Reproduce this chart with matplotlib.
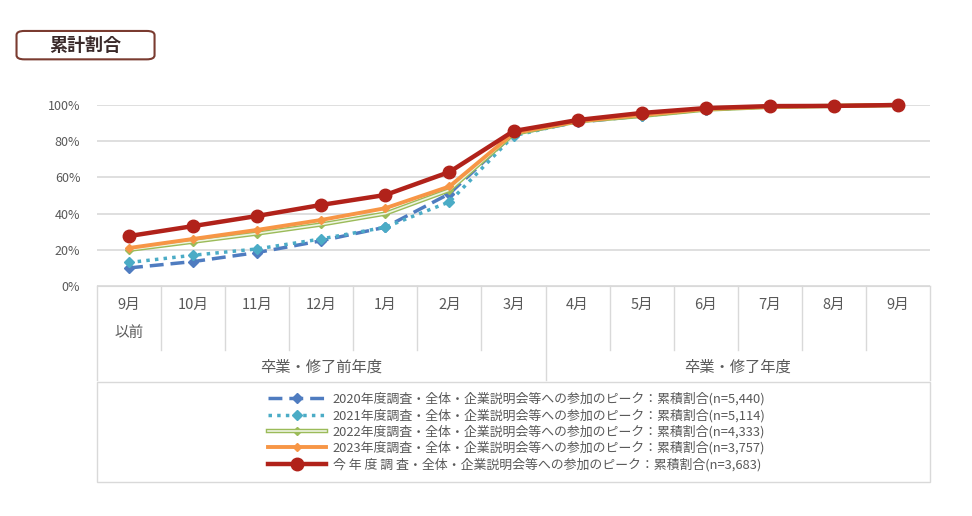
import matplotlib.pyplot as plt
from matplotlib.patches import FancyBboxPatch, Rectangle
from matplotlib.legend_handler import HandlerTuple

plt.rcParams["font.family"] = "Noto Sans CJK JP"

months = ["9月", "10月", "11月", "12月", "1月", "2月", "3月",
          "4月", "5月", "6月", "7月", "8月", "9月"]
groups = ["卒業・修了前年度", "卒業・修了年度"]

y2020 = [10, 13.5, 18.5, 25, 32.5, 51, 84, 90.5, 94, 97.5, 99, 99.5, 100]
y2021 = [13, 17, 20.5, 26, 32.5, 46.5, 83, 91, 94, 97.5, 99, 99.5, 100]
y2022 = [20, 24.5, 29, 34, 40, 53, 84, 91, 94, 97.5, 99, 99.5, 100]
y2023 = [21, 26, 31, 36.5, 43, 55, 84.5, 91, 94.5, 97.8, 99, 99.5, 100]
y2024 = [27.6, 33.1, 38.7, 44.8, 50.3, 63, 85.6, 91.7, 95.6, 98.3, 99.4, 99.5, 100]

labels = [
    "2020年度調査・全体・企業説明会等への参加のピーク：累積割合(n=5,440)",
    "2021年度調査・全体・企業説明会等への参加のピーク：累積割合(n=5,114)",
    "2022年度調査・全体・企業説明会等への参加のピーク：累積割合(n=4,333)",
    "2023年度調査・全体・企業説明会等への参加のピーク：累積割合(n=3,757)",
    "今 年 度 調 査・全体・企業説明会等への参加のピーク：累積割合(n=3,683)",
]

tc = "#595959"
fig = plt.figure(figsize=(9.72, 5.16), dpi=100)
ax = fig.add_axes([0.0998, 0.4457, 0.857, 0.3508])
x = list(range(len(months)))

h1, = ax.plot(x, y2020, color="#4f7cc0", lw=2.5, ls=(0, (4, 2)), marker="D", ms=5, clip_on=False)
h2, = ax.plot(x, y2021, color="#4bacc6", lw=2.5, ls=(0, (1, 1.5)), marker="D", ms=5, clip_on=False)
h3a, = ax.plot(x, y2022, color="#9bbb59", lw=3.2, marker="D", ms=4, clip_on=False)
h3b, = ax.plot(x, y2022, color="#eef4e2", lw=1.2, clip_on=False)
h4, = ax.plot(x, y2023, color="#f79646", lw=2.8, marker="D", ms=4, clip_on=False)
h5, = ax.plot(x, y2024, color="#b1221a", lw=3.2, marker="o", ms=9, clip_on=False)

ax.set_xlim(-0.5, len(months) - 0.5)
ax.set_ylim(0, 100)
ax.set_yticks(range(0, 101, 20))
ax.set_yticklabels([f"{v}%" for v in range(0, 101, 20)], color=tc, fontsize=9)
ax.tick_params(axis="y", length=0, pad=12)
ax.set_xticks([])
ax.grid(axis="y", color="#d9d9d9", lw=1.2)
ax.set_axisbelow(True)
for s in ["top", "right", "left"]:
    ax.spines[s].set_visible(False)
ax.spines["bottom"].set_color("#d9d9d9")

tr = ax.get_xaxis_transform()
for b in range(len(months) + 1):
    bottom = -0.519 if b in (0, 7, 13) else -0.354
    ax.plot([b - 0.5, b - 0.5], [0, bottom], color="#d9d9d9", lw=1, transform=tr, clip_on=False)
for i, m in enumerate(months):
    ax.text(i, -0.105, m, transform=tr, ha="center", va="center", color=tc, fontsize=10.5)
ax.text(0, -0.26, "以前", transform=tr, ha="center", va="center", color=tc, fontsize=10.5)
ax.text(3, -0.448, groups[0], transform=tr, ha="center", va="center", color=tc, fontsize=11)
ax.text(9.5, -0.448, groups[1], transform=tr, ha="center", va="center", color=tc, fontsize=11)

fig.patches.append(Rectangle((0.0998, 0.066), 0.857, 0.194, transform=fig.transFigure,
                             fill=False, ec="#d9d9d9", lw=1))
leg = fig.legend([h1, h2, (h3a, h3b), h4, h5], labels,
                 handler_map={tuple: HandlerTuple(ndivide=1, pad=0)},
                 loc="center", bbox_to_anchor=(0.532, 0.163), frameon=False,
                 fontsize=9.3, handlelength=4.5, labelspacing=0.22, handletextpad=0.5)
for t in leg.get_texts():
    t.set_color(tc)

fig.patches.append(FancyBboxPatch((0.017, 0.885), 0.142, 0.055, transform=fig.transFigure,
                                  boxstyle="round,pad=0,rounding_size=0.008",
                                  fill=False, ec="#7a3b30", lw=1.5))
fig.text(0.088, 0.912, "累計割合", ha="center", va="center", fontsize=13,
         fontweight="bold", color="#3a2a2a")

fig.savefig("out.png", dpi=100)
